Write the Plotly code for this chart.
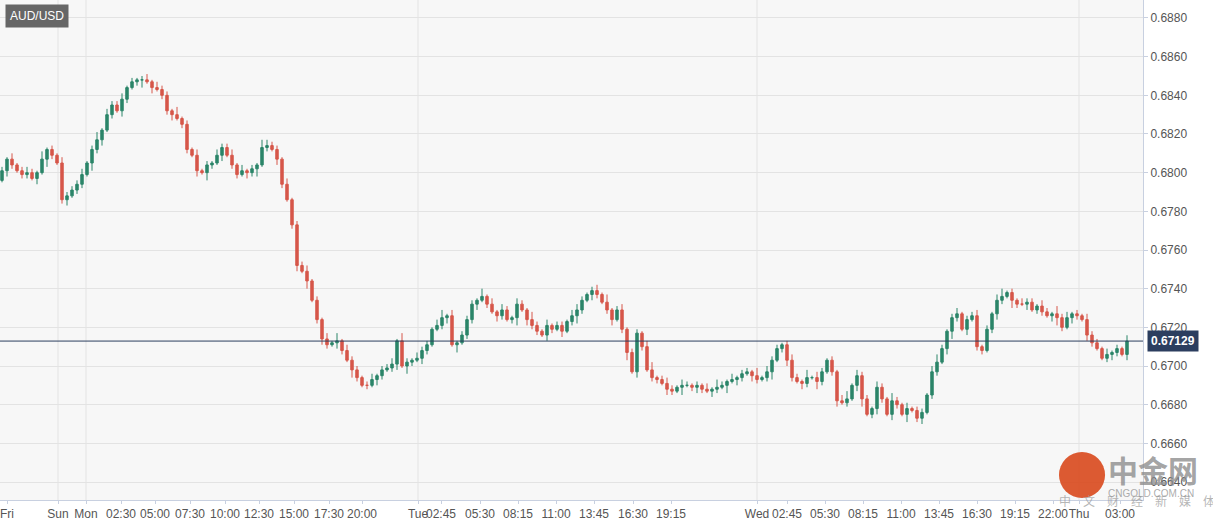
import plotly.graph_objects as go

closes = [0.6801,0.6807,0.6804,0.6801,0.6799,0.6800,0.6797,0.6800,0.6807,0.6812,0.6809,0.6805,
0.6786,0.6788,0.6791,0.6794,0.6799,0.6805,0.6812,0.6817,0.6822,0.6830,0.6835,0.6832,0.6838,0.6844,0.6847,0.6848,0.6848,0.6847,
0.6844,0.6843,0.6840,0.6832,0.6830,0.6828,0.6825,0.6812,0.6809,0.6801,0.6800,0.6804,0.6805,0.6809,0.6813,0.6809,0.6804,0.6799,
0.6801,0.6800,0.6802,0.6804,0.6813,0.6814,0.6812,0.6807,0.6794,0.6786,0.6773,0.6752,0.6749,0.6744,0.6734,0.6724,0.6714,0.6711,
0.6712,0.6713,0.6708,0.6703,0.6698,0.6694,0.6690,0.6690,0.6693,0.6695,0.6698,0.6699,0.6701,0.6713,0.6700,0.6702,0.6703,0.6704,
0.6708,0.6711,0.6719,0.6721,0.6725,0.6726,0.6711,0.6712,0.6716,0.6724,0.6732,0.6734,0.6736,0.6732,0.6728,0.6726,0.6729,0.6724,
0.6725,0.6732,0.6729,0.6724,0.6721,0.6718,0.6716,0.6721,0.6719,0.6721,0.6718,0.6723,0.6726,0.6729,0.6734,0.6737,0.6739,0.6737,
0.6733,0.6729,0.6724,0.6729,0.6719,0.6707,0.6697,0.6717,0.6710,0.6698,0.6694,0.6693,0.6691,0.6688,0.6687,0.6689,0.6690,0.6690,
0.6689,0.6690,0.6688,0.6687,0.6688,0.6689,0.6690,0.6692,0.6693,0.6694,0.6696,0.6697,0.6695,0.6693,0.6694,0.6697,0.6703,0.6709,
0.6711,0.6703,0.6694,0.6692,0.6691,0.6694,0.6694,0.6692,0.6697,0.6703,0.6697,0.6682,0.6681,0.6683,0.6690,0.6695,0.6683,0.6675,
0.6678,0.6689,0.6683,0.6675,0.6682,0.6680,0.6675,0.6678,0.6677,0.6673,0.6676,0.6685,0.6697,0.6702,0.6709,0.6718,0.6725,0.6727,
0.6719,0.6724,0.6726,0.6710,0.6708,0.6719,0.6727,0.6734,0.6736,0.6738,0.6734,0.6732,0.6732,0.6733,0.6729,0.6731,0.6728,0.6726,
0.6727,0.6725,0.6720,0.6725,0.6727,0.6726,0.6724,0.6716,0.6712,0.6709,0.6704,0.6706,0.6707,0.6709,0.6706,0.67129]
first_open = 0.6796
# wick lengths in pips, per candle
wick_up_pips = [int(c) for c in (
    "2131232141213222312413223121231322141213121322313121432213122312131413221231223142132213413122"
    "2141313213214213122133212314123122134123213212131421312214132212321413212134132213214213122134"
    "2123122312134121322132142312132213121321")]
wick_dn_pips = [int(c) for c in (
    "1321221314212312214231213212413122312213142131221324121321231412321321421213212314213211231412"
    "2312132124132213213124213212312413212213214123213214132132124123213214212312134123213214123122"
    "1342131221232142131221342132132112321321")]
current_price = 0.67129

tick_pos = [7,58,86,121,155,190,225,259,294,329,362,418,441,480,518,556,594,633,671,757,787,825,863,901,939,977,1015,1053,1079,1120]
tick_text = ["Fri","Sun","Mon","02:30","05:00","07:30","10:00","12:30","15:00","17:30","20:00","Tue","02:45","05:30","08:15","11:00","13:45","16:30","19:15","Wed","02:45","05:30","08:15","11:00","13:45","16:30","19:15","22:00","Thu","03:00"]
day_lines = [58, 86, 418, 757, 1079]
y_ticks = [0.6640,0.6660,0.6680,0.6700,0.6720,0.6740,0.6760,0.6780,0.6800,0.6820,0.6840,0.6860,0.6880]

n = len(closes)
xs = [i * 5 + 2 for i in range(n)]
opens = [first_open] + closes[:-1]
highs = [max(o, c) + wick_up_pips[i] * 0.0001 for i, (o, c) in enumerate(zip(opens, closes))]
lows = [min(o, c) - wick_dn_pips[i] * 0.0001 for i, (o, c) in enumerate(zip(opens, closes))]

green = "#2b8569"
red = "#d6574a"
fig = go.Figure(go.Candlestick(
    x=xs, open=opens, high=highs, low=lows, close=closes,
    increasing=dict(line=dict(color=green, width=1), fillcolor=green),
    decreasing=dict(line=dict(color=red, width=1), fillcolor=red),
    whiskerwidth=0, showlegend=False, hoverinfo="skip"))

shapes = []
for d in day_lines:
    shapes.append(dict(type="line", xref="x", yref="paper", x0=d, x1=d, y0=0, y1=1,
                       line=dict(color="#e3e3e3", width=1), layer="below"))
shapes.append(dict(type="line", xref="paper", yref="y", x0=0, x1=1, y0=current_price, y1=current_price,
                   line=dict(color="#2c3e5f", width=1)))
shapes.append(dict(type="circle", xref="paper", yref="paper", x0=0.9265, x1=0.9668, y0=0.004, y1=0.096,
                   fillcolor="rgba(216,72,28,0.9)", line=dict(width=0)))

fig.update_layout(
    width=1213, height=526,
    margin=dict(l=0, r=70, t=0, b=26, autoexpand=False),
    paper_bgcolor="white", plot_bgcolor="#f7f7f7",
    font=dict(family="Arial, Liberation Sans, sans-serif", color="#555", size=12),
    xaxis=dict(range=[0, 1143], tickvals=tick_pos, ticktext=tick_text, showgrid=False, tickangle=0,
               automargin=False,
               rangeslider=dict(visible=False), ticks="outside", ticklen=3, tickcolor="#c8d0e0",
               showline=True, linecolor="#c8d0e0", zeroline=False, tickfont=dict(size=12, color="#555")),
    yaxis=dict(side="right", range=[0.66307, 0.68893], tickvals=y_ticks, tickformat=".4f", automargin=False,
               gridcolor="#e3e3e3", showline=True, linecolor="#c8d0e0", ticks="outside", ticklen=4,
               tickcolor="#c8d0e0", zeroline=False, tickfont=dict(size=12, color="#555")),
    shapes=shapes,
    annotations=[
        dict(text="AUD/USD", xref="paper", yref="paper", x=0.004, y=0.992, xanchor="left", yanchor="top",
             showarrow=False, bgcolor="#666666", font=dict(color="white", size=12), borderpad=4),
        dict(text="<b>0.67129</b>", xref="paper", yref="y", x=1.0, y=current_price, xanchor="left",
             showarrow=False, bgcolor="#2c3e5f", font=dict(color="white", size=12), borderpad=3, xshift=4),
        dict(text="<b>中金网</b>", xref="paper", yref="paper", x=0.968, y=0.06, yanchor="middle", yshift=1,
             xanchor="left", showarrow=False,
             font=dict(color="rgba(140,140,140,0.8)", size=30, family="Noto Sans CJK SC")),
        dict(text="CNGOLD.COM.CN", xref="paper", yref="paper", x=0.968, y=0.0, xanchor="left", yanchor="middle",
             yshift=7, showarrow=False, font=dict(color="rgba(150,150,150,0.8)", size=10)),
        dict(text="中　文　财　经　新　媒　体", xref="paper", yref="paper", x=0.925, y=-0.022, xanchor="left",
             showarrow=False, font=dict(color="rgba(150,150,150,0.7)", size=12, family="Noto Sans CJK SC")),
    ],
)
fig.write_html("out.html", config={"displayModeBar": False},
               post_script="document.body.style.margin='0';")
